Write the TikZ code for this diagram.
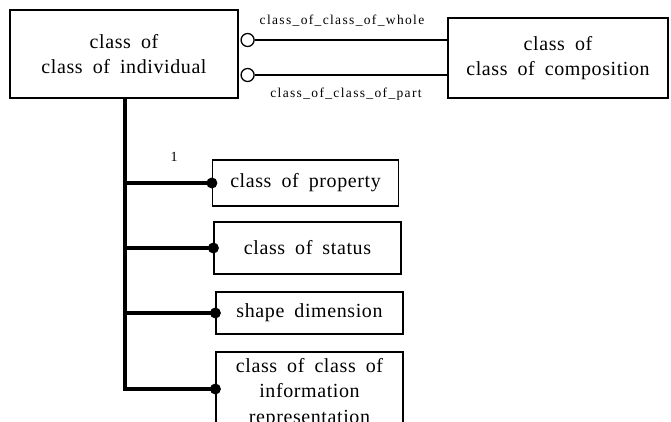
\documentclass[tikz,border=0pt]{standalone}
\usepackage{fontspec}
\setmainfont{Liberation Serif}
\newfontfamily\boxfont[LetterSpace=3]{Liberation Serif}
\newfontfamily\lblfont[LetterSpace=10]{Liberation Serif}
\newcommand\widesp{\spaceskip=0.5em plus 0.1em\relax}
\begin{document}
\begin{tikzpicture}[x=1pt,y=-1pt,
  box/.style={draw,line width=1.2pt,inner sep=0pt,align=center,font=\boxfont\fontsize{20}{25.5}\selectfont,execute at begin node=\widesp},
  thk/.style={line width=4.5pt},
  thin/.style={line width=1.3pt},
  dot/.style={circle,fill,inner sep=0pt,minimum size=11pt},
  ocirc/.style={circle,draw,line width=1.3pt,fill=white,inner sep=0pt,minimum size=13pt},
  lbl/.style={font=\lblfont\fontsize{13.5}{15}\selectfont}]
\path[use as bounding box] (0,0) rectangle (671,422);
\clip (0,0) rectangle (671,422);
\node[box,minimum width=228pt,minimum height=88pt] (A) at (124,54) {class of\\class of individual};
\node[box,minimum width=220pt,minimum height=80pt] (B) at (558,58) {class of\\class of composition};
\node[box,minimum width=186pt,minimum height=46pt] (P) at (305.5,183) {class of property};
\node[box,minimum width=187pt,minimum height=52pt] (S) at (307.5,248) {class of status};
\node[box,minimum width=187pt,minimum height=42pt] (D) at (309.5,313) {shape dimension};
\node[box,minimum width=187pt,minimum height=82pt] (I) at (309.5,393) {class of class of\\information\\representation};
% top connectors
\coordinate (yw) at (0,40);
\coordinate (yp) at (0,75);
\node[ocirc] (c1) at ([xshift=9pt]A.east |- yw) {};
\node[ocirc] (c2) at ([xshift=9pt]A.east |- yp) {};
\draw[thin] (c1.east) -- (B.west |- c1);
\draw[thin] (c2.east) -- (B.west |- c2);
\node[lbl] (lw) at (342,21) {class\_of\_class\_of\_whole};
\node[lbl] (lp) at (346,94) {class\_of\_class\_of\_part};
% trunk
\coordinate (tr) at (125,0);
\coordinate (ib) at (0,389);
\draw[thk] (A.south -| tr) -- (tr |- ib) -- (I.west |- ib);
\draw[thk] (tr |- P.west) -- (P.west);
\draw[thk] (tr |- S.west) -- (S.west);
\draw[thk] (tr |- D.west) -- (D.west);
\node[dot] at (P.west) {};
\node[dot] at (S.west) {};
\node[dot] at (D.west) {};
\node[dot] at (I.west |- ib) {};
\node[font=\fontsize{14}{15}\selectfont] (one) at (174,157) {1};
\end{tikzpicture}
\end{document}
